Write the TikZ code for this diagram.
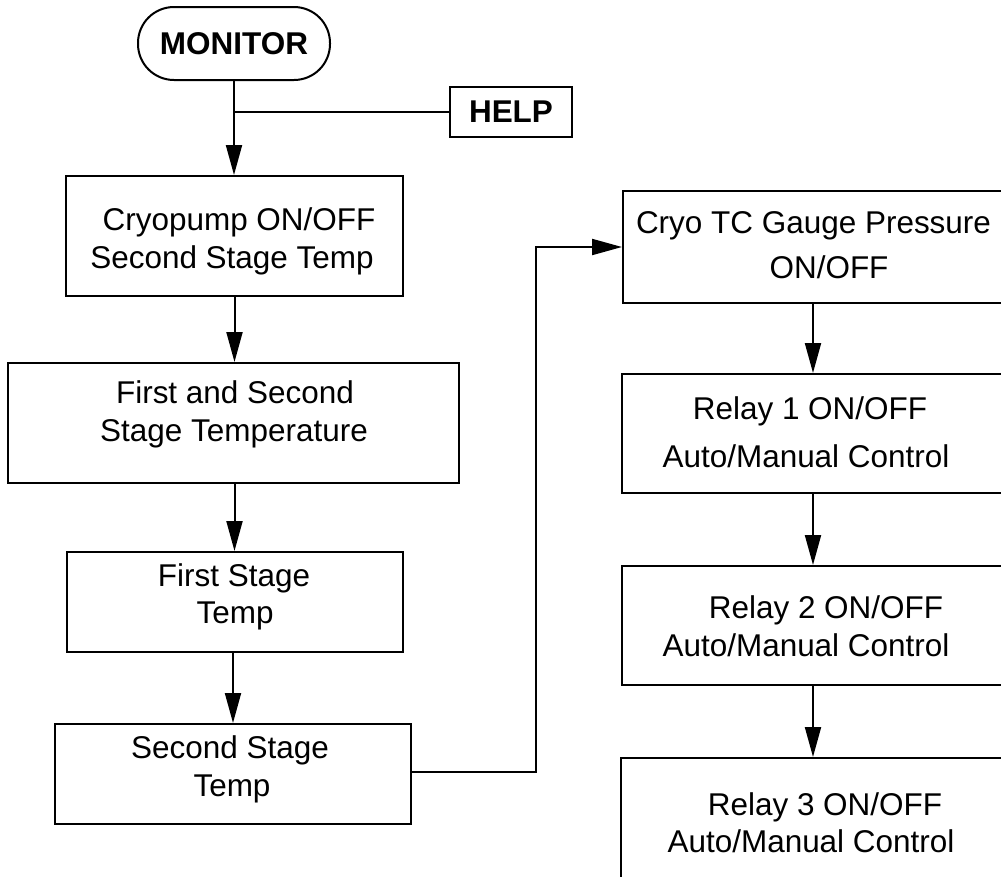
\documentclass[tikz,border=0pt]{standalone}
\usepackage{fontspec}
\setmainfont{Liberation Sans}
\usetikzlibrary{arrows.meta}
\begin{document}
\begin{tikzpicture}[x=0.75pt,y=-0.75pt,
  line width=1.5pt,
  every node/.style={font=\fontsize{23.6pt}{28pt}\selectfont},
  boxnode/.style={draw, rectangle, inner sep=0pt, line width=1.5pt},
  lbl/.style={inner sep=0pt, anchor=base},
  flow/.style={line width=1.5pt, -{Triangle[length=22.5pt,width=12pt]}},
  plain/.style={line width=1.5pt}]
\useasboundingbox (0,0) rectangle (1001,876);
\clip (0,0) rectangle (1001,876);

% start and help
\node[boxnode, rounded corners=27pt, minimum width=144pt, minimum height=54.75pt, font=\fontsize{23.6pt}{28pt}\selectfont\bfseries] (monitor) at (234,43.5) {MONITOR};
\node[boxnode, minimum width=91.5pt, minimum height=37.5pt, font=\fontsize{23.6pt}{28pt}\selectfont\bfseries] (help) at (511,112) {HELP};

% left column boxes
\node[boxnode, minimum width=252.75pt, minimum height=90pt] (b1) at (234.5,236) {};
\node[boxnode, minimum width=338.25pt, minimum height=90pt] (b2) at (233.5,423) {};
\node[boxnode, minimum width=252pt, minimum height=75pt] (b3) at (235,602) {};
\node[boxnode, minimum width=267pt, minimum height=75pt] (b4) at (233,774) {};

% right column boxes (run past the right edge)
\node[boxnode, minimum width=285pt, minimum height=84pt] (cryo) at (813,247) {};
\node[boxnode, minimum width=286.5pt, minimum height=89.25pt] (r1) at (813,433.5) {};
\node[boxnode, minimum width=286.5pt, minimum height=89.25pt] (r2) at (813,625.5) {};
\node[boxnode, minimum width=288pt, minimum height=105pt] (r3) at (813,828) {};

% texts
\node[lbl] (t1a) at (239,230) {Cryopump ON/OFF};
\node[lbl] (t1b) at (232,268) {Second Stage Temp};
\node[lbl] (t2a) at (235,403) {First and Second};
\node[lbl] (t2b) at (234,441) {Stage Temperature};
\node[lbl] (t3a) at (234,586) {First Stage};
\node[lbl] (t3b) at (235,623) {Temp};
\node[lbl] (t4a) at (230,758) {Second Stage};
\node[lbl] (t4b) at (232,796) {Temp};
\node[lbl] (tca) at (813.5,233) {Cryo TC Gauge Pressure};
\node[lbl] (tcb) at (829,278) {ON/OFF};
\node[lbl] (tr1a) at (810,419) {Relay 1 ON/OFF};
\node[lbl] (tr1b) at (806,467) {Auto/Manual Control};
\node[lbl] (tr2a) at (826,618) {Relay 2 ON/OFF};
\node[lbl] (tr2b) at (806,656) {Auto/Manual Control};
\node[lbl] (tr3a) at (825,815) {Relay 3 ON/OFF};
\node[lbl] (tr3b) at (811,852) {Auto/Manual Control};

% connectors
\draw[flow] (monitor.south) -- (b1.north -| monitor.south);
\draw[plain] (help.west) -- (help.west -| monitor.south);
\draw[flow] (b1.south) -- (b2.north -| b1.south);
\draw[flow] (b2.south -| b1.south) -- (b3.north -| b1.south);
\draw[flow] (b3.south -| b4.north) -- (b4.north);
\coordinate (turn) at (536,772);
\draw[flow] (b4.east |- turn) -- (turn) |- (cryo.west);
\draw[flow] (cryo.south) -- (r1.north);
\draw[flow] (r1.south) -- (r2.north);
\draw[flow] (r2.south) -- (r3.north);
\end{tikzpicture}
\end{document}
